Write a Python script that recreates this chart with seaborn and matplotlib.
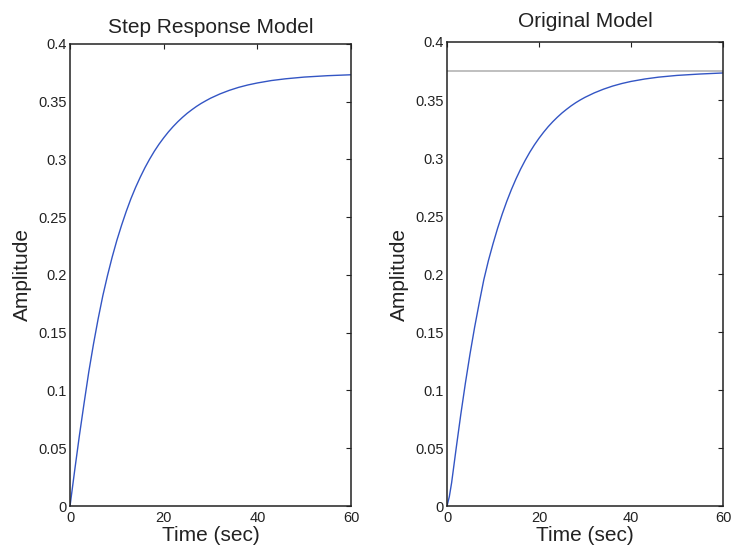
import matplotlib
matplotlib.use("Agg")
import matplotlib.pyplot as plt
import pandas as pd
import seaborn as sns

# Step response values
time_model = [0, 1, 2, 3, 4, 5, 6, 7, 8, 9, 10, 11, 12, 13, 14, 15, 16, 17,
              18, 19, 20, 21, 22, 23, 24, 25, 26, 27, 28, 29, 30, 32, 34, 36,
              38, 40, 43, 46, 50, 55, 60]
amp_model = [0, 0.031, 0.061, 0.089, 0.116, 0.140, 0.162, 0.182, 0.1995,
             0.2155, 0.230, 0.243, 0.255, 0.266, 0.2758, 0.2847, 0.2929,
             0.3003, 0.3071, 0.3132, 0.3187, 0.3238, 0.3284, 0.3326, 0.3364,
             0.3399, 0.3430, 0.3459, 0.3485, 0.3508, 0.3530, 0.3567, 0.3598,
             0.3624, 0.3645, 0.3662, 0.3683, 0.3698, 0.3713, 0.3725, 0.3733]

time_orig = [0, 0.5, 1, 1.5, 2, 3, 4, 5, 6, 7, 8, 9, 10, 11, 12, 13, 14, 15,
             16, 17, 18, 19, 20, 21, 22, 23, 24, 25, 26, 27, 28, 29, 30, 32,
             34, 36, 38, 40, 43, 46, 50, 55, 60]
amp_orig = [0, 0.008, 0.020, 0.035, 0.050, 0.079, 0.106, 0.131, 0.154, 0.175,
            0.195, 0.2115, 0.226, 0.2394, 0.2516, 0.2627, 0.2728, 0.282,
            0.2904, 0.298, 0.305, 0.3113, 0.317, 0.3222, 0.327, 0.3313,
            0.3352, 0.3388, 0.342, 0.345, 0.3477, 0.3501, 0.3523, 0.3561,
            0.3593, 0.362, 0.3642, 0.366, 0.3681, 0.3697, 0.3712, 0.3724,
            0.3733]
steady_state = 0.375

y_ticks = [0, 0.05, 0.1, 0.15, 0.2, 0.25, 0.3, 0.35, 0.4]
y_labels = ["0", "0.05", "0.1", "0.15", "0.2", "0.25", "0.3", "0.35", "0.4"]
x_ticks = [0, 20, 40, 60]

df_model = pd.DataFrame({"t": time_model, "amp": amp_model})
df_orig = pd.DataFrame({"t": time_orig, "amp": amp_orig})

sns.set_style("white")
plt.rcParams["font.family"] = ["Liberation Sans", "DejaVu Sans"]

fig = plt.figure(figsize=(7.31, 5.49), dpi=100)
ax1 = fig.add_axes([0.0958, 0.0783, 0.3844, 0.8417])
ax2 = fig.add_axes([0.6115, 0.0783, 0.3775, 0.8452])

line_color = "#3355c4"

sns.lineplot(data=df_model, x="t", y="amp", ax=ax1, color=line_color, linewidth=1.0)
sns.lineplot(data=df_orig, x="t", y="amp", ax=ax2, color=line_color, linewidth=1.0)
ax2.axhline(steady_state, color="#b4b4b4", linewidth=1.2, zorder=1)

for ax, title, pad in [(ax1, "Step Response Model", 8), (ax2, "Original Model", 11)]:
    ax.set_xlim(0, 60)
    ax.set_ylim(0, 0.4)
    ax.set_xticks(x_ticks)
    ax.set_xticklabels([str(v) for v in x_ticks])
    ax.set_yticks(y_ticks)
    ax.set_yticklabels(y_labels)
    ax.tick_params(direction="in", length=3.5, width=0.8, top=True, right=True,
                   labelsize=10.5, colors="#222222")
    ax.tick_params(axis="x", pad=3.5)
    ax.tick_params(axis="y", pad=2.5)
    for sp in ax.spines.values():
        sp.set_visible(True)
        sp.set_color("#222222")
        sp.set_linewidth(1.1)
    ax.set_title(title, fontsize=15, pad=pad, color="#222222")
    ax.set_xlabel("Time (sec)", fontsize=15, labelpad=1, color="#222222")
    ax.set_ylabel("Amplitude", fontsize=15, labelpad=4, color="#222222")
    ax.grid(False)

fig.savefig("out.png", dpi=100)
